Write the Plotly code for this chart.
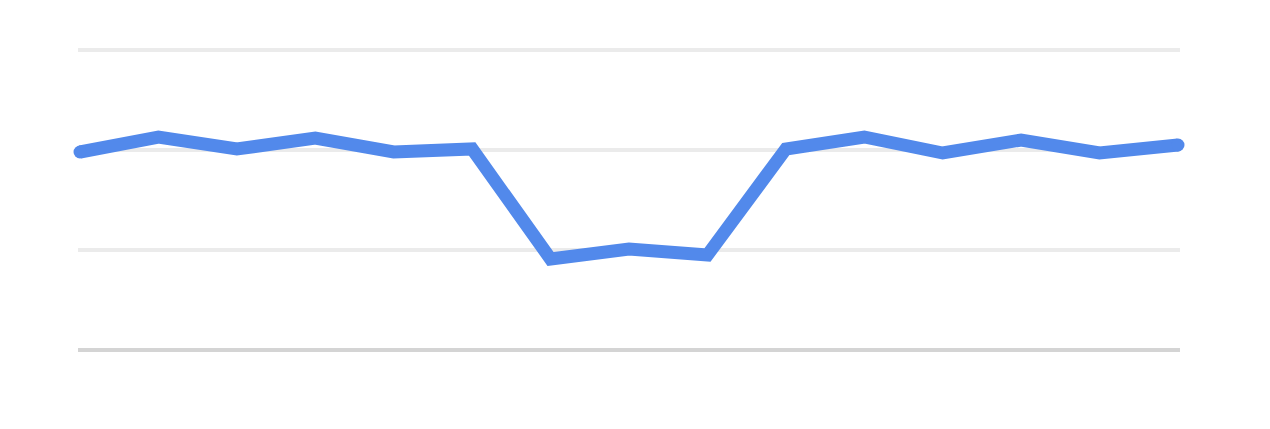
import plotly.graph_objects as go

x_idx = list(range(15))
values = [198, 213, 201, 212, 198, 201, 91, 101, 95, 201, 213, 197, 210, 197, 205]
y_ticks = [0, 100, 200, 300]

LINE_W = 13
marker_sizes = [LINE_W if i in (0, len(values) - 1) else 0 for i in range(len(values))]

fig = go.Figure(
    go.Scatter(
        x=x_idx,
        y=values,
        mode="lines+markers",
        line=dict(color="#5289EB", width=LINE_W),
        marker=dict(color="#5289EB", size=marker_sizes, opacity=1, line=dict(width=0)),
        cliponaxis=False,
        hoverinfo="skip",
    )
)

pad = 2 / 78.43
fig.update_layout(
    width=1270,
    height=429,
    margin=dict(l=70, r=98, t=32, b=77),
    paper_bgcolor="white",
    plot_bgcolor="white",
    showlegend=False,
    xaxis=dict(
        range=[-pad, 14 + pad],
        showgrid=False,
        zeroline=False,
        showticklabels=False,
        ticks="",
        showline=False,
    ),
    yaxis=dict(
        range=[-10, 310],
        tickvals=y_ticks,
        showticklabels=False,
        ticks="",
        showgrid=True,
        gridcolor="#EBEBEB",
        gridwidth=3.5,
        zeroline=True,
        zerolinecolor="#D4D4D4",
        zerolinewidth=3.5,
        showline=False,
    ),
)

fig.write_html("out.html")
